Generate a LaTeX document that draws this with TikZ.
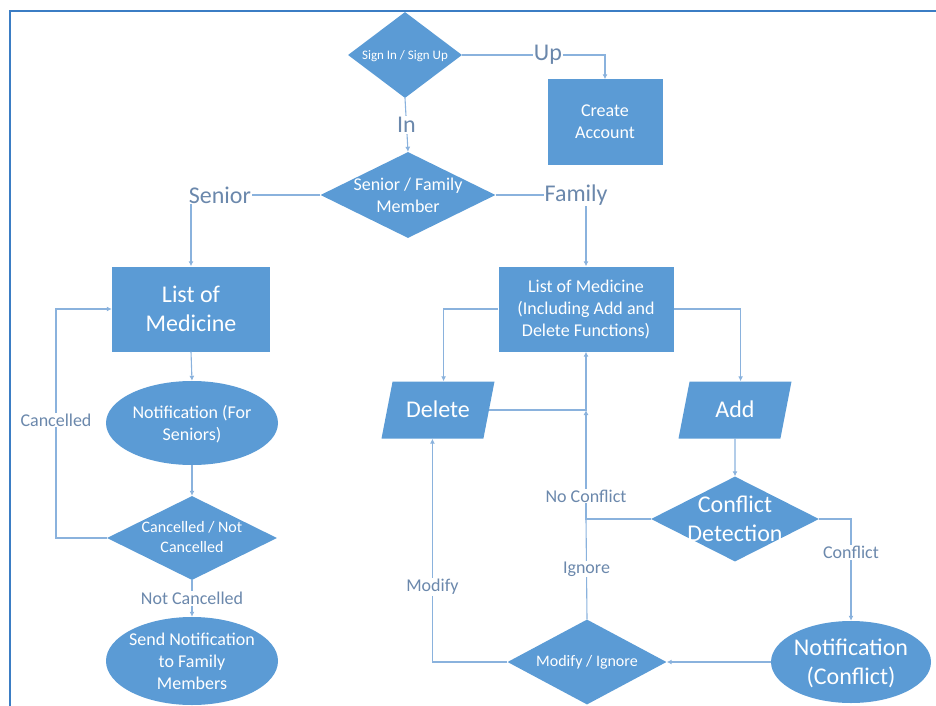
\documentclass[tikz,border=0pt]{standalone}
\usepackage{fontspec}
\setmainfont{Carlito}
\usetikzlibrary{shapes.geometric,arrows.meta}

\definecolor{boxblue}{HTML}{5B9BD5}
\definecolor{lineblue}{HTML}{8AB2DD}
\definecolor{labelgrey}{HTML}{6B88AC}
\definecolor{frameblue}{HTML}{3B7DC4}

\newcommand{\fbig}{\fontsize{24}{29}\selectfont}
\newcommand{\fmid}{\fontsize{18}{22}\selectfont}
\newcommand{\fsml}{\fontsize{16}{20}\selectfont}
\newcommand{\ftny}{\fontsize{13}{16}\selectfont}
% text that does not push the shape bigger
\newcommand{\intext}[1]{\smash{\makebox[0pt]{\raisebox{-.33em}{\begin{tabular}{@{}c@{}}#1\end{tabular}}}}}

\begin{document}
\begin{tikzpicture}[x=1pt, y=-1pt,
    base/.style={fill=boxblue, text=white, inner sep=0pt},
    rbox/.style={base, rectangle, align=center},
    dec/.style={base, diamond},
    oval/.style={base, ellipse},
    para/.style={base, trapezium, trapezium left angle=79, trapezium right angle=101, trapezium stretches body, text height=36pt, text depth=21pt},
    flow/.style={draw=lineblue, line width=1.1pt, -{Latex[length=5pt,width=5pt]}},
    link/.style={draw=lineblue, line width=1.1pt},
    lbl/.style={fill=white, text=labelgrey, inner sep=1pt, font=\fmid},
    lblbig/.style={lbl, font=\fbig}]
            \useasboundingbox (0,0) rectangle (936,706);
            % Draw the frame
            \draw[frameblue, line width=2.5pt] (10,706) -- (10,11) -- (936,11);

            % Sign in part
            \node[dec, minimum width=114pt, minimum height=86pt, font=\ftny] (signin) at (405,55) {\intext{Sign In / Sign Up}};
            \node[rbox, minimum width=115pt, minimum height=85pt, font=\fmid] (create) at (605,122) {Create\\Account};
            \node[dec, minimum width=175pt, minimum height=86pt, font=\fmid] (senfam) at (408,195) {\intext{Senior / Family\\Member}};

            % Senior side
            \node[rbox, minimum width=158pt, minimum height=85pt, font=\fbig] (listS) at (191,309) {List of\\Medicine};
            \node[oval, minimum width=172pt, minimum height=84pt, font=\fmid] (notifS) at (192,423) {\intext{Notification (For\\Seniors)}};
            \node[dec, minimum width=170pt, minimum height=84pt, font=\fsml] (cancel) at (192,538) {\intext{Cancelled / Not\\Cancelled}};
            \node[oval, minimum width=172pt, minimum height=88pt, font=\fmid] (send) at (192,661) {\intext{Send Notification\\to Family\\Members}};

            % Family side
            \node[rbox, minimum width=175pt, minimum height=85pt, font=\fmid] (listF) at (586,309) {List of Medicine\\(Including Add and\\Delete Functions)};
            \node[para, minimum width=113pt, minimum height=57pt, font=\fbig] (delete) at (438,410) {Delete};
            \node[para, minimum width=113pt, minimum height=57pt, font=\fbig] (add) at (735,410) {Add};
            \node[dec, minimum width=168pt, minimum height=85pt, font=\fbig] (detect) at (735,519) {\intext{Conflict\\Detection}};
            \node[oval, minimum width=160pt, minimum height=82pt, font=\fbig] (notifC) at (851,662) {\intext{Notification\\(Conflict)}};
            \node[dec, minimum width=159pt, minimum height=85pt, font=\fsml] (modign) at (587,662) {\intext{Modify / Ignore}};

            % Connectors at the top
            \draw[flow] (signin.east) -| node[lblbig, pos=0.3] (lup) {Up} (create.north);
            \draw[flow] (signin.south) -- node[lblbig] (lin) {In} (senfam.north);
            \draw[flow] (senfam.west) -| node[lblbig, pos=0.388] (lsen) {Senior} (listS.north);
            \draw[flow] (senfam.east) -| node[lblbig, pos=0.445] (lfam) {Family} (listF.north);

            % Connectors for seniors
            \draw[flow] (listS.south) -- (notifS.north);
            \draw[flow] (notifS.south) -- (cancel.north);
            \draw[flow] (cancel.south) -- node[lbl] (lnot) {Not Cancelled} (send.north);
            \coordinate (loopS) at (56,538);
            \draw[flow] (cancel.west) -- (loopS) |- node[lbl, pos=0.258] (lcan) {Cancelled} (listS.west);

            % Connectors for family
            \draw[flow] (listF.west) -| (delete.top side);
            \draw[flow] (listF.east) -| (add.top side);
            \draw[flow] (delete.right side) -| (listF.south);
            \coordinate (jn) at (listF.south |- detect.west);
            \draw[flow] (detect.west) -- (jn) -- node[lbl, pos=0.21] (lno) {No Conflict} (listF.south |- delete.right side);
            \draw[link] (modign.north) -- node[lbl] (lign) {Ignore} (jn);
            \draw[flow] (add.south) -- (detect.north);
            \draw[flow] (detect.east) -| node[lbl, pos=0.665] (lcon) {Conflict} (notifC.north);
            \draw[flow] (notifC.west) -- (modign.east);
            \draw[flow] (modign.west) -| node[lbl, pos=0.668] (lmod) {Modify} (delete.bottom side);
        \end{tikzpicture}
\end{document}
